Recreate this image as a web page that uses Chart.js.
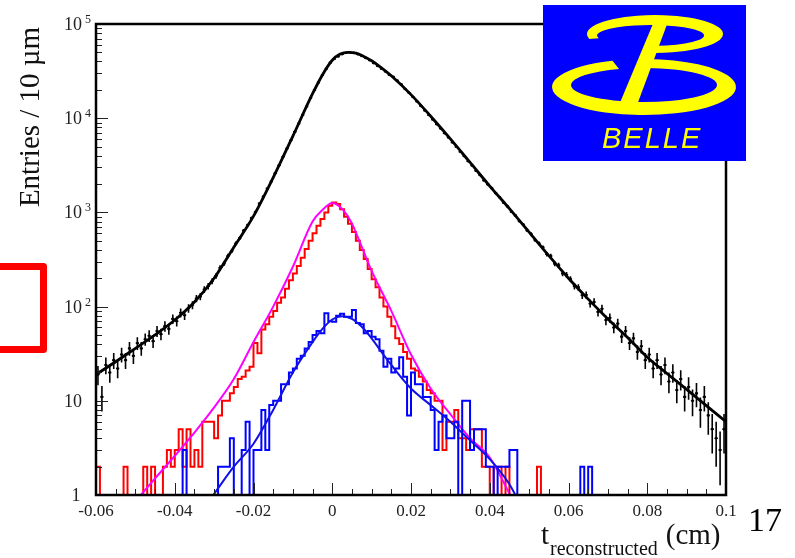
<!DOCTYPE html>
<html>
<head>
<meta charset="utf-8">
<title>Proper time distribution</title>
<script src="https://cdn.jsdelivr.net/npm/chart.js@4.4.0/dist/chart.umd.min.js"></script>
<style>
  html, body { margin: 0; padding: 0; background: #fff; }
  #wrap { position: relative; width: 795px; height: 558px; overflow: hidden; }
</style>
</head>
<body>
<div id="wrap">
  <canvas id="lifetimeChart" width="795" height="558"></canvas>
</div>
<script>
// histogram binning: 10 um bins from -0.06 to 0.1 cm
var histLow = -0.06;
var histHigh = 0.1;
var binWidth = 0.001;

// all candidates (black points)
var allCounts = [
  19, 11, 24, 20, 27, 22, 31, 27, 36, 30, 41, 36, 45, 49, 43, 55, 51, 62, 58, 74,
  70, 86, 81, 96, 104, 122, 128, 152, 165, 186, 212, 258, 286, 345, 390, 468, 533, 640, 730, 870,
  1010, 1240, 1470, 1790, 2130, 2600, 3170, 3900, 4760, 5830, 7160, 8800, 10850, 13330, 16400, 19950, 24000, 28800, 33500, 38900,
  42660, 45190, 47860, 49550, 50120, 49550, 47860, 45710, 43650, 41210, 38460, 35890, 33500, 31260, 28840, 27540, 25120, 22900, 20400, 18620,
  16800, 15100, 13450, 12100, 10800, 9700, 8650, 7780, 6920, 6240, 5540, 4970, 4400, 3960, 3490, 3150, 2770, 2500, 2190, 1985,
  1810, 1600, 1450, 1270, 1160, 1015, 930, 810, 745, 645, 590, 510, 470, 425, 360, 345, 285, 275, 225, 218,
  196, 165, 160, 132, 133, 108, 112, 88, 95, 72, 76, 60, 66, 48, 55, 41, 46, 33, 38, 27,
  31, 22, 27, 19, 24, 16, 20, 13, 17, 11, 14, 10, 12, 8, 11, 7, 5, 4, 3, 5
];

// red histogram
var redCounts = [
  2, 0, 0, 0, 0, 0, 0, 2, 0, 0, 0, 0, 2, 0, 2, 0, 0, 2, 3, 2,
  3, 5, 2, 5, 2, 3, 2, 6, 6, 6, 4, 7, 10, 10, 12, 14, 17, 18, 21, 23,
  41, 32, 57, 65, 78, 90, 110, 125, 155, 190, 225, 270, 330, 410, 500, 600, 720, 850, 1000, 1180,
  1270, 1230, 1080, 900, 760, 620, 500, 400, 320, 250, 195, 160, 125, 100, 78, 62, 46, 40, 33, 28,
  22, 21, 18, 16, 13, 12, 10, 10, 3, 6, 6, 8, 4, 4, 3, 5, 5, 5, 2, 2,
  0, 2, 2, 0, 2, 0, 0, 0, 0, 0, 0, 0, 2, 0, 0, 0, 0, 0, 0, 0,
  0, 0, 0, 0, 0, 0, 0, 0, 0, 0, 0, 0, 0, 0, 0, 0, 0, 0, 0, 0,
  0, 0, 0, 0, 0, 0, 0, 0, 0, 0, 0, 0, 0, 0, 0, 0, 0, 0, 0, 0
];

// blue histogram
var blueCounts = [
  0, 0, 0, 0, 0, 0, 0, 0, 0, 0, 0, 0, 0, 0, 0, 0, 0, 0, 0, 0,
  0, 0, 3, 0, 0, 0, 0, 0, 0, 0, 0, 2, 2, 2, 4, 0, 0, 3, 6, 0,
  3, 3, 8, 3, 9, 10, 10, 15, 15, 20, 22, 28, 30, 36, 42, 50, 55, 52, 85, 70,
  69, 80, 84, 78, 78, 92, 67, 65, 52, 55, 48, 45, 34, 23, 28, 20, 22, 29, 18, 7,
  20, 15, 15, 11, 11, 8, 3, 6, 7, 4, 4, 6, 0, 10, 10, 3, 5, 5, 5, 2,
  2, 0, 2, 2, 2, 3, 3, 0, 0, 0, 0, 0, 0, 0, 0, 0, 0, 0, 0, 0,
  0, 0, 0, 2, 0, 2, 0, 0, 0, 0, 0, 0, 0, 0, 0, 0, 0, 0, 0, 0,
  0, 0, 0, 0, 0, 0, 0, 0, 0, 0, 0, 0, 0, 0, 0, 0, 0, 0, 0, 0
];

// fitted curves
var blackFitX = [-0.06, -0.055, -0.05, -0.045, -0.04, -0.035, -0.03, -0.025, -0.02, -0.015,
  -0.01, -0.005, -0.0025, 0, 0.002, 0.004, 0.006, 0.008, 0.01, 0.0125,
  0.015, 0.02, 0.025, 0.03, 0.035, 0.04, 0.045, 0.05, 0.055, 0.06,
  0.065, 0.07, 0.075, 0.08, 0.085, 0.09, 0.095, 0.1];
var blackFitY = [19, 26, 36, 50, 72, 112, 200, 427, 912, 2340,
  6460, 18200, 28800, 41200, 47900, 50100, 49000, 45200, 40700, 34300,
  28200, 17800, 10500, 6030, 3390, 1905, 1096, 617, 347, 200,
  120, 74, 47, 29, 19.5, 13.2, 8.9, 6.0];

var magentaFitX = [-0.0486, -0.045, -0.04, -0.035, -0.03, -0.025, -0.02, -0.015, -0.01, -0.005,
  -0.0025, 0, 0.0025, 0.005, 0.0075, 0.01, 0.015, 0.02, 0.025, 0.03, 0.035, 0.04, 0.0452];
var magentaFitY = [1, 1.5, 2.6, 4.6, 8.5, 17, 42, 100, 265, 800,
  1060, 1260, 1090, 760, 430, 240, 90, 31, 13.5, 7.2, 4.0, 2.5, 1];

var blueFitX = [-0.0302, -0.025, -0.02, -0.015, -0.01, -0.005, -0.0025, 0, 0.0025, 0.005,
  0.0075, 0.01, 0.0125, 0.015, 0.02, 0.025, 0.03, 0.035, 0.04, 0.045, 0.0465];
var blueFitY = [1, 2.0, 3.5, 8, 20, 42, 58, 73, 79, 74,
  61, 46, 33, 24, 13.5, 9.0, 6.0, 3.8, 2.4, 1.3, 1];

// axes
var yMin = 1;
var yMax = 100000;
var yTickValues = [1, 10, 100, 1000, 10000, 100000];
var yTickBase = ['1', '10', '10', '10', '10', '10'];
var yTickExp = ['', '', '2', '3', '4', '5'];
var xTickValues = [-0.06, -0.04, -0.02, 0, 0.02, 0.04, 0.06, 0.08, 0.1];
var xTickLabels = ['-0.06', '-0.04', '-0.02', '0', '0.02', '0.04', '0.06', '0.08', '0.1'];
var xMinorStep = 0.005;

var serif = '"Liberation Serif", "DejaVu Serif", serif';

function binEdge(k) {
  return histLow + k * binWidth;
}

// outline points for a stepped histogram; empty bins sit on the axis floor
function histPoints(counts) {
  var pts = counts.map(function (n, k) {
    return { x: binEdge(k), y: n > 0 ? n : yMin };
  });
  pts.push({ x: histHigh, y: pts[pts.length - 1].y });
  return pts;
}

function curvePoints(xs, ys) {
  return xs.map(function (v, i) { return { x: v, y: ys[i] }; });
}

var dataPoints = allCounts.map(function (n, k) {
  return { x: binEdge(k) + binWidth / 2, y: n };
});

// vertical sqrt(N) error bars on the black points
var errorBars = {
  id: 'errorBars',
  afterDatasetDraw: function (chart, args) {
    if (args.index !== 1) return;
    var ctx = chart.ctx, a = chart.chartArea;
    var xs = chart.scales.x, ys = chart.scales.y;
    ctx.save();
    ctx.beginPath();
    ctx.rect(a.left, a.top, a.right - a.left, a.bottom - a.top);
    ctx.clip();
    ctx.strokeStyle = '#000';
    ctx.lineWidth = 1.6;
    ctx.beginPath();
    allCounts.forEach(function (n, k) {
      var err = Math.sqrt(n);
      var px = xs.getPixelForValue(binEdge(k) + binWidth / 2);
      var top = ys.getPixelForValue(n + err);
      var bot = n - err > yMin ? ys.getPixelForValue(n - err) : a.bottom;
      var mid = ys.getPixelForValue(n);
      ctx.moveTo(px, top);
      ctx.lineTo(px, bot);
      ctx.moveTo(px - 1.6, mid);
      ctx.lineTo(px + 1.6, mid);
    });
    ctx.stroke();
    ctx.restore();
  }
};

function drawLogo(ctx) {
  ctx.save();
  ctx.fillStyle = '#0000ff';
  ctx.fillRect(543, 5, 203, 156);
  ctx.fillStyle = '#ffff00';

  function bowl(o, i, a0, a1, ccw) {
    ctx.beginPath();
    ctx.ellipse(o[0], o[1], o[2], o[3], 0, a0, a1, ccw);
    ctx.ellipse(i[0], i[1], i[2], i[3], 0, a1, a0, !ccw);
    ctx.closePath();
    ctx.fill();
  }
  var d = Math.PI / 180;
  bowl([655, 34, 68, 19], [650.5, 35.5, 53.5, 10.5], 165 * d, 455 * d, false);
  bowl([644, 87, 92, 28], [644, 85, 73, 17], 250 * d, -88 * d, true);

  // slanted spine of the B
  ctx.beginPath();
  ctx.moveTo(655, 19);
  ctx.lineTo(669, 19);
  ctx.lineTo(637, 105);
  ctx.lineTo(619, 105);
  ctx.closePath();
  ctx.fill();

  ctx.font = 'italic 29px "Liberation Sans", Arial, sans-serif';
  ctx.letterSpacing = '2px';
  ctx.textAlign = 'left';
  ctx.textBaseline = 'alphabetic';
  ctx.fillText('BELLE', 602, 148);
  ctx.restore();
}

// ROOT-style frame, inward ticks, labels and titles
var frameAxes = {
  id: 'frameAxes',
  afterDraw: function (chart) {
    var ctx = chart.ctx, a = chart.chartArea;
    var xs = chart.scales.x, ys = chart.scales.y;
    ctx.save();

    ctx.strokeStyle = '#222';
    ctx.lineWidth = 1;
    ctx.beginPath();
    for (var e = 0; e < yTickValues.length - 1; e++) {
      for (var m = 1; m <= 9; m++) {
        var py = Math.round(ys.getPixelForValue(m * yTickValues[e])) + 0.5;
        ctx.moveTo(a.left, py);
        ctx.lineTo(a.left + (m === 1 ? 12 : 6), py);
      }
    }
    var nMinor = Math.round((histHigh - histLow) / xMinorStep);
    for (var k = 0; k <= nMinor; k++) {
      var px = Math.round(xs.getPixelForValue(histLow + k * xMinorStep)) + 0.5;
      ctx.moveTo(px, a.bottom);
      ctx.lineTo(px, a.bottom - (k % 4 === 0 ? 12 : 6));
    }
    ctx.stroke();

    ctx.strokeStyle = '#000';
    ctx.lineWidth = 2.5;
    ctx.strokeRect(a.left, a.top, a.right - a.left, a.bottom - a.top);

    ctx.fillStyle = '#222';
    ctx.textBaseline = 'alphabetic';
    yTickValues.forEach(function (v, i) {
      var py = ys.getPixelForValue(v);
      ctx.font = '18px ' + serif;
      if (yTickBase[i] === '1') {
        ctx.textAlign = 'center';
        ctx.fillText('1', a.left - 20, py + 6);
        return;
      }
      ctx.textAlign = 'right';
      ctx.fillText(yTickBase[i], a.left - 14, py + 6);
      if (yTickExp[i]) {
        ctx.font = '12px ' + serif;
        ctx.textAlign = 'left';
        ctx.fillText(yTickExp[i], a.left - 11, py - 1);
      }
    });

    ctx.font = '17px ' + serif;
    ctx.textAlign = 'center';
    xTickValues.forEach(function (v, i) {
      ctx.fillText(xTickLabels[i], xs.getPixelForValue(v), a.bottom + 21);
    });

    // axis titles
    ctx.fillStyle = '#111';
    ctx.textAlign = 'left';
    ctx.font = '29px ' + serif;
    ctx.fillText('t', 541, 544);
    var tx = 541 + ctx.measureText('t').width + 1;
    ctx.font = '20px ' + serif;
    ctx.fillText('reconstructed', tx, 555);
    tx += ctx.measureText('reconstructed').width + 8;
    ctx.font = '29px ' + serif;
    ctx.fillText('(cm)', tx, 544);

    ctx.save();
    ctx.translate(39, 117);
    ctx.rotate(-Math.PI / 2);
    ctx.textAlign = 'center';
    ctx.fillText('Entries / 10 \u00b5m', 0, 0);
    ctx.restore();

    // slide page number
    ctx.fillStyle = '#000';
    ctx.font = '34px ' + serif;
    ctx.fillText('17', 748, 531);

    // red marker box at the left margin
    ctx.strokeStyle = '#ff0000';
    ctx.lineWidth = 7;
    ctx.lineJoin = 'round';
    ctx.strokeRect(-10, 266.5, 53.5, 83);

    ctx.restore();
    drawLogo(ctx);
  }
};

var ctxLifetime = document.getElementById('lifetimeChart').getContext('2d');
var lifetimeChart = new Chart(ctxLifetime, {
  type: 'line',
  data: {
    datasets: [
      {
        label: 'Fit (all)',
        data: curvePoints(blackFitX, blackFitY),
        borderColor: '#000',
        borderWidth: 2.8,
        pointRadius: 0,
        cubicInterpolationMode: 'monotone',
        order: 0
      },
      {
        label: 'Data',
        data: dataPoints,
        showLine: false,
        pointRadius: 1.3,
        pointBackgroundColor: '#000',
        pointBorderWidth: 0,
        order: 1
      },
      {
        label: 'Fit (blue)',
        data: curvePoints(blueFitX, blueFitY),
        borderColor: '#1010e8',
        borderWidth: 2,
        pointRadius: 0,
        cubicInterpolationMode: 'monotone',
        order: 2
      },
      {
        label: 'Blue',
        data: histPoints(blueCounts),
        borderColor: '#0000ff',
        borderWidth: 2,
        pointRadius: 0,
        stepped: 'before',
        order: 3
      },
      {
        label: 'Fit (magenta)',
        data: curvePoints(magentaFitX, magentaFitY),
        borderColor: '#ff00ff',
        borderWidth: 2,
        pointRadius: 0,
        cubicInterpolationMode: 'monotone',
        order: 4
      },
      {
        label: 'Red',
        data: histPoints(redCounts),
        borderColor: '#ff0000',
        borderWidth: 2,
        pointRadius: 0,
        stepped: 'before',
        order: 5
      }
    ]
  },
  options: {
    responsive: false,
    animation: false,
    events: [],
    layout: { padding: { left: 96, right: 69, top: 24, bottom: 63 } },
    scales: {
      x: { type: 'linear', min: histLow, max: histHigh, display: false },
      y: { type: 'logarithmic', min: yMin, max: yMax, display: false }
    },
    plugins: {
      legend: { display: false },
      tooltip: { enabled: false }
    }
  },
  plugins: [errorBars, frameAxes]
});
</script>
</body>
</html>
